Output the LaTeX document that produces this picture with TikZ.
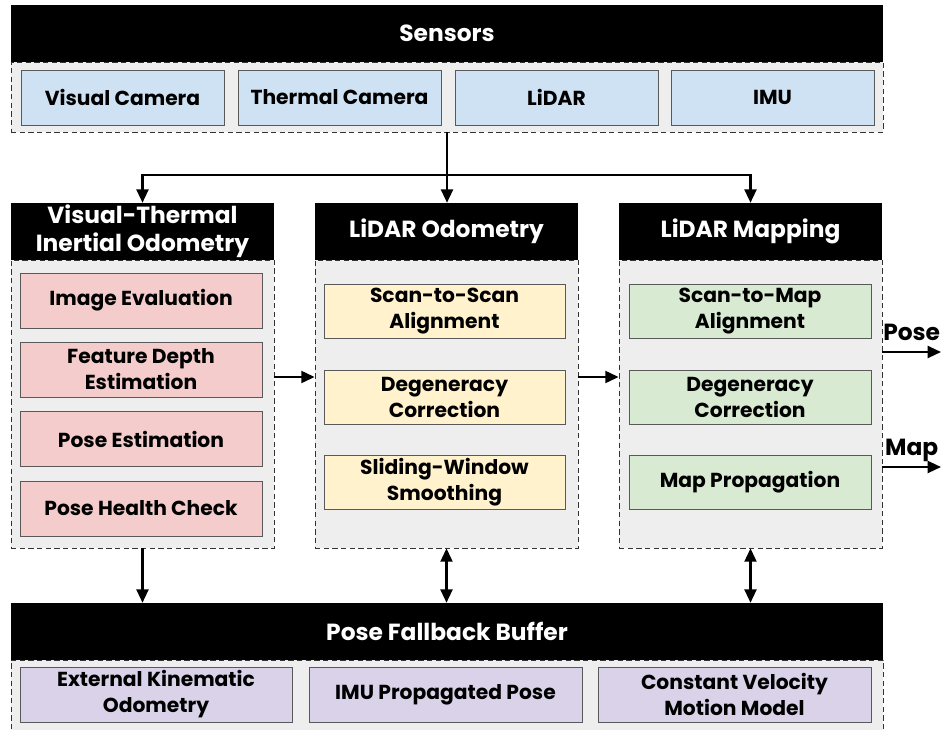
\documentclass[tikz,border=0pt]{standalone}
\usepackage{fontspec}
\setmainfont{Poppins}
\usetikzlibrary{arrows.meta,calc}
\definecolor{panelgray}{HTML}{EEEEEE}
\definecolor{sensorblue}{HTML}{CFE2F3}
\definecolor{vtiopink}{HTML}{F4CCCC}
\definecolor{loyellow}{HTML}{FFF2CC}
\definecolor{lmgreen}{HTML}{D9EAD3}
\definecolor{bufpurple}{HTML}{D9D2E9}

\begin{document}
\begin{tikzpicture}[
		x=0.75pt, y=-0.75pt,
		wh/.style 2 args={minimum width=#1*0.75pt, minimum height=#2*0.75pt},
		header/.style={fill=black, text=white, inner sep=0pt, align=center,
				font=\bfseries\fontsize{17.5}{21}\selectfont},
		panel/.style={fill=panelgray, draw=black!80, dash pattern=on 4pt off 2.5pt, line width=0.6pt, inner sep=0pt},
		block/.style={draw=black!65, line width=0.6pt, inner sep=0pt, align=center,
				font=\bfseries\fontsize{15.2}{19.5}\selectfont},
		flow/.style={line width=1.6pt, -{Triangle[length=10pt,width=9pt]}},
		both/.style={line width=1.6pt, {Triangle[length=10pt,width=9pt]}-{Triangle[length=10pt,width=9pt]}},
		outlabel/.style={font=\bfseries\fontsize{17.5}{21}\selectfont, inner sep=0pt, anchor=base, yshift=8.5pt}
	]
	\useasboundingbox (0,0) rectangle (945,729);

	% sensors
	\node[panel, wh={872}{70}] (sensPanel) at (447,97) {};
	\node[header, wh={872}{57}] (sensHead) at (447,33.5) {Sensors};
	\node[block, fill=sensorblue, wh={203}{55}] (visCam) at (122.5,97.5) {Visual Camera};
	\node[block, fill=sensorblue, wh={203}{55}] (thCam) at (339.5,97.5) {Thermal Camera};
	\node[block, fill=sensorblue, wh={203}{55}] (lidar) at (556.5,97.5) {LiDAR};
	\node[block, fill=sensorblue, wh={203}{55}] (imu) at (772.5,97.5) {IMU};

	% visual-thermal inertial odometry
	\node[panel, wh={263}{288}] (vtioPanel) at (142.5,404) {};
	\node[header, wh={263}{57}] (vtioHead) at (142.5,231.5) {Visual-Thermal\\Inertial Odometry};
	\node[block, fill=vtiopink, wh={242}{55}] (imgEval) at (141,300.5) {Image Evaluation};
	\node[block, fill=vtiopink, wh={242}{55}] (featDepth) at (141,369.5) {Feature Depth\\Estimation};
	\node[block, fill=vtiopink, wh={242}{55}] (poseEst) at (141,439) {Pose Estimation};
	\node[block, fill=vtiopink, wh={242}{55}] (poseHealth) at (141,508.5) {Pose Health Check};

	% lidar odometry
	\node[panel, wh={263}{288}] (loPanel) at (446.5,404) {};
	\node[header, wh={263}{57}] (loHead) at (446.5,231.5) {LiDAR Odometry};
	\node[block, fill=loyellow, wh={241}{54}] (s2s) at (444.5,311) {Scan-to-Scan\\Alignment};
	\node[block, fill=loyellow, wh={241}{54}] (loDegen) at (444.5,397) {Degeneracy\\Correction};
	\node[block, fill=loyellow, wh={241}{54}] (slideWin) at (444.5,482.5) {Sliding-Window\\Smoothing};

	% lidar mapping
	\node[panel, wh={263}{288}] (lmPanel) at (750.5,404) {};
	\node[header, wh={263}{57}] (lmHead) at (750.5,231.5) {LiDAR Mapping};
	\node[block, fill=lmgreen, wh={242}{54}] (s2m) at (750,311) {Scan-to-Map\\Alignment};
	\node[block, fill=lmgreen, wh={242}{54}] (lmDegen) at (750,397) {Degeneracy\\Correction};
	\node[block, fill=lmgreen, wh={242}{54}] (mapProp) at (750,482.5) {Map Propagation};

	% pose fallback buffer
	\node[panel, wh={872}{90}] (bufPanel) at (447,705) {};
	\node[header, wh={872}{57}] (bufHead) at (447,631.5) {Pose Fallback Buffer};
	\node[block, fill=bufpurple, wh={272}{55}] (extKin) at (156,694.5) {External Kinematic\\Odometry};
	\node[block, fill=bufpurple, wh={273}{55}] (imuProp) at (445.5,694.5) {IMU Propagated Pose};
	\node[block, fill=bufpurple, wh={273}{55}] (constVel) at (734.5,694.5) {Constant Velocity\\Motion Model};

	% connectors
	\coordinate (split) at (447,175);
	\draw[flow] (sensPanel.south) -- (loHead.north -| sensPanel.south);
	\draw[flow] (split) -| (vtioHead.north);
	\draw[flow] (split) -| (lmHead.north);
	\draw[flow] (vtioPanel.east |- 0,377) -- (loPanel.west |- 0,377);
	\draw[flow] (loPanel.east |- 0,377) -- (lmPanel.west |- 0,377);

	\coordinate (poseOut) at (941,352);
	\coordinate (mapOut) at (941,467);
	\draw[flow] (lmPanel.east |- poseOut) -- node[outlabel] (poseLbl) {Pose} (poseOut);
	\draw[flow] (lmPanel.east |- mapOut) -- node[outlabel] (mapLbl) {Map} (mapOut);

	\draw[flow] (vtioPanel.south) -- (vtioPanel.south |- bufHead.north);
	\draw[both] (loPanel.south) -- (loPanel.south |- bufHead.north);
	\draw[both] (lmPanel.south) -- (lmPanel.south |- bufHead.north);
\end{tikzpicture}
\end{document}
